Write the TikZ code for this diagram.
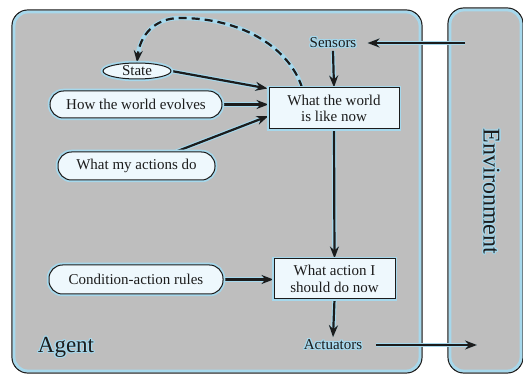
\documentclass[tikz,border=0pt]{standalone}
\usepackage{fontspec}
\setmainfont{Liberation Serif}
\usepackage[copies]{contour}
\usetikzlibrary{arrows.meta,shapes.geometric}
\definecolor{panel}{HTML}{BEBEBE}
\definecolor{halo}{HTML}{A6D8EC}
\definecolor{ink}{HTML}{1C1C1C}
\definecolor{boxfill}{HTML}{EEF8FD}
\contourlength{1.1pt}
\pgfdeclarelayer{back}
\pgfdeclarelayer{mid}
\pgfsetlayers{back,mid,main}
\tikzset{
  txt/.style={font=\fontsize{15}{16.5}\selectfont, text=ink},
  glowdraw/.style={preaction={draw=halo, line width=4.5pt}, draw=ink, line width=1pt},
  pill/.style={txt, glowdraw, fill=boxfill, rounded corners=13.5pt, inner sep=0pt},
  statebox/.style={txt, glowdraw, fill=boxfill, rounded corners=0pt, inner sep=0pt, align=center},
  oval/.style={txt, glowdraw, fill=boxfill, ellipse, inner sep=0pt},
  plain/.style={txt, inner sep=2pt},
  tip/.style={-{Stealth[length=12pt,width=9pt]}},
  flow/.style={preaction={draw=halo, line width=4.4pt, tip}, draw=ink, line width=2.2pt, tip},
  region/.style={fill=panel, draw=ink, line width=1.2pt, rounded corners=16pt},
  regionglow/.style={draw=halo, line width=2.8pt, rounded corners=14pt},
}
\begin{document}
\begin{tikzpicture}[x=1pt,y=-1pt]
\useasboundingbox (0,0) rectangle (523,374);

% agent and environment panels
\begin{pgfonlayer}{back}
  \fill[white] (0,0) rectangle (523,374);
  \draw[region] (12,10) rectangle (422,373);
  \draw[regionglow] (14,12) rectangle (420,371);
  \draw[region] (448,8) rectangle (523,373);
  \draw[regionglow] (450,10) rectangle (521,371);
\end{pgfonlayer}

% components
\node[plain] (sensors) at (333,43) {\contour{halo}{Sensors}};
\node[plain] (actuators) at (333,345) {\contour{halo}{Actuators}};
\node[oval, minimum width=68pt, minimum height=16pt] (state) at (137,71) {State};
\node[pill, minimum width=172pt, minimum height=27pt] (evolves) at (136,104.5) {How the world evolves};
\node[pill, minimum width=157pt, minimum height=28pt] (effects) at (136.5,166) {What my actions do};
\node[pill, minimum width=174pt, minimum height=29pt] (rules) at (136,279.5) {Condition-action rules};
\node[statebox, minimum width=130pt, minimum height=41pt] (world) at (334,108.5) {What the world\\is like now};
\node[statebox, minimum width=121pt, minimum height=40pt] (action) at (334.5,279) {What action I\\should do now};
\node[txt, font=\fontsize{23}{25}\selectfont] (agent) at (66,348) {\contour{halo}{Agent}};
\node[txt, font=\fontsize{24}{26}\selectfont, rotate=-90] (env) at (491,191.5) {\contour{halo}{Environment}};

\coordinate (percept) at (465,43);
\coordinate (effect) at (477,345);

% connectors
\begin{pgfonlayer}{mid}
  \draw[flow] (percept) -- ([xshift=9pt]sensors.east);
  \draw[flow] (sensors.south) -- (world.north);
  \draw[flow] (state.east) -- ([xshift=-1pt,yshift=-1pt]world.north west);
  \draw[flow] (evolves.east) -- (evolves.east -| world.west);
  \draw[flow] (effects.20) -- ([yshift=-7.5pt]world.west);
  \draw[flow] (world.south) -- (action.north);
  \draw[flow] (rules.east) -- (rules.east -| action.west);
  \draw[flow] (action.south) -- (actuators.north);
  \draw[flow] ([xshift=12pt]actuators.east) -- (effect);
  \draw[preaction={draw=halo, line width=4.4pt, solid, tip},
        draw=ink, line width=2.2pt, dash pattern=on 8pt off 5pt, tip]
    ([xshift=-32pt]world.north) .. controls (290,50) and (245,18) .. (180,18)
    .. controls (155,18) and (140,35) .. (state.north);
\end{pgfonlayer}
\end{tikzpicture}
\end{document}
